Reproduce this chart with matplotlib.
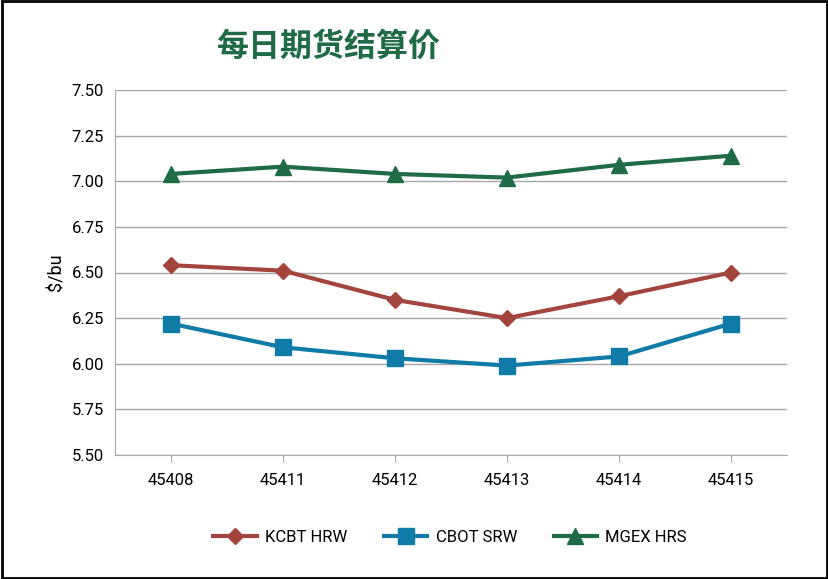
import matplotlib.pyplot as plt

plt.rcParams['font.family'] = ['Roboto', 'Noto Sans CJK SC', 'DejaVu Sans']

DATES = ["45408", "45411", "45412", "45413", "45414", "45415"]
KCBT_HRW = [6.54, 6.51, 6.35, 6.25, 6.37, 6.50]
CBOT_SRW = [6.22, 6.09, 6.03, 5.99, 6.04, 6.22]
MGEX_HRS = [7.04, 7.08, 7.04, 7.02, 7.09, 7.14]
YTICKS = [5.50, 5.75, 6.00, 6.25, 6.50, 6.75, 7.00, 7.25, 7.50]

fig = plt.figure(figsize=(8.29, 5.79), dpi=100)
ax = fig.add_axes([115 / 829, 1 - 455 / 579, 672 / 829, 365 / 579])

x = range(len(DATES))
ax.plot(x, KCBT_HRW, color="#A3453E", marker="D", markersize=8, linewidth=3, label="KCBT HRW")
ax.plot(x, CBOT_SRW, color="#0F7BA6", marker="s", markersize=11, linewidth=3, label="CBOT SRW")
ax.plot(x, MGEX_HRS, color="#1F6B45", marker="^", markersize=11, linewidth=3, label="MGEX HRS")

ax.set_xlim(-0.5, len(DATES) - 0.5)
ax.set_ylim(5.5, 7.5)
ax.set_yticks(YTICKS)
ax.set_yticklabels([f"{v:.2f}" for v in YTICKS], fontsize=12)
ax.set_xticks(list(x))
ax.set_xticklabels(DATES, fontsize=12)
ax.grid(axis="y", color="#A6A6A6", linewidth=1)
ax.set_axisbelow(True)
for s in ["top", "right"]:
    ax.spines[s].set_visible(False)
ax.spines["left"].set_color("#A6A6A6")
ax.spines["bottom"].set_color("#A6A6A6")
ax.tick_params(axis="y", length=0, pad=8)
ax.tick_params(axis="x", length=5, color="#A6A6A6", pad=8)
ax.set_ylabel("$/bu", fontsize=13)

fig.text(328 / 829, 1 - 47 / 579, "每日期货结算价", fontsize=23, fontweight="bold",
         color="#1F6B45", ha="center", va="center", family=['Noto Sans CJK SC', 'DejaVu Sans'])

fig.legend(loc="center", bbox_to_anchor=(450 / 829, 1 - 537 / 579), ncol=3, frameon=False,
           fontsize=12, handlelength=2.6, columnspacing=2.2, handletextpad=0.5)

fig.patches.append(plt.Rectangle((0.002, 0.002), 0.996, 0.996, transform=fig.transFigure,
                                 fill=False, edgecolor="black", linewidth=2))

fig.savefig("out.png", dpi=100)
